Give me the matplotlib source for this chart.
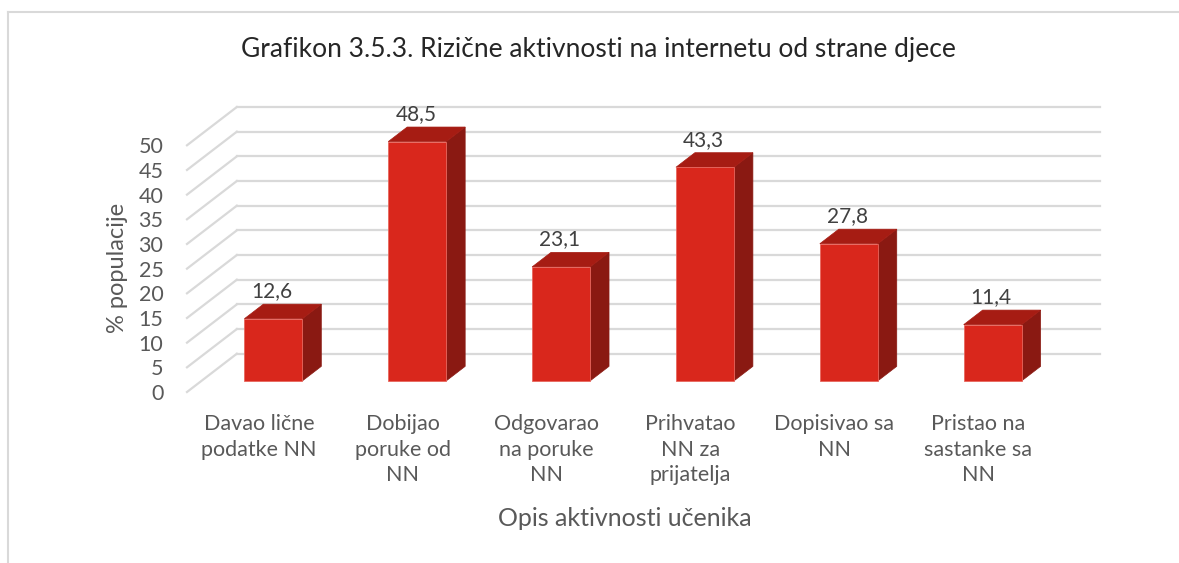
import numpy as np
import matplotlib.pyplot as plt
from matplotlib.patches import Polygon
from matplotlib.lines import Line2D

plt.rcParams['font.family'] = ['Lato', 'DejaVu Sans']

title = "Grafikon 3.5.3. Rizične aktivnosti na internetu od strane djece"
categories = ["Davao lične\npodatke NN", "Dobijao\nporuke od\nNN", "Odgovarao\nna poruke\nNN",
              "Prihvatao\nNN za\nprijatelja", "Dopisivao sa\nNN", "Pristao na\nsastanke sa\nNN"]
values = [12.6, 48.5, 23.1, 43.3, 27.8, 11.4]
y_ticks = [0, 5, 10, 15, 20, 25, 30, 35, 40, 45, 50]
y_label = "% populacije"
x_label = "Opis aktivnosti učenika"

# oblique depth of the whole plot box, in data units
ddx = 0.3465
ddy = 7.76
bar_front = 0.29   # depth fraction of bar front face
bar_depth = 0.38   # depth fraction taken by bar
bar_w = 0.403

c_front = "#d9271c"
c_top = "#a61c13"
c_side = "#8a1912"
grid_c = "#d9d9d9"
text_c = "#595959"

fig = plt.figure(figsize=(11.79, 5.63), dpi=100)
W, H = 1179, 563
ax = fig.add_axes([187 / W, (H - 392) / H, 913 / W, 285 / H])
ax.set_xlim(-0.5, len(values) - 0.5 + ddx)
ax.set_ylim(0, 50 + ddy)
for s in ax.spines.values():
    s.set_visible(False)

# back wall gridlines + side wall diagonals
for v in y_ticks:
    ax.plot([-0.5 + ddx, len(values) - 0.5 + ddx], [v + ddy, v + ddy], color=grid_c, lw=1.6, zorder=1, clip_on=False)
    ax.plot([-0.5, -0.5 + ddx], [v, v + ddy], color=grid_c, lw=1.6, zorder=1, clip_on=False)

# bars drawn as oblique boxes
for i, v in enumerate(values):
    x0 = i + bar_front * ddx - bar_w / 2
    x1 = x0 + bar_w
    y0 = bar_front * ddy
    y1 = y0 + v
    ox = bar_depth * ddx
    oy = bar_depth * ddy
    side = Polygon([(x1, y0), (x1 + ox, y0 + oy), (x1 + ox, y1 + oy), (x1, y1)], closed=True,
                   facecolor=c_side, edgecolor=c_side, lw=0.5, zorder=3)
    top = Polygon([(x0, y1), (x1, y1), (x1 + ox, y1 + oy), (x0 + ox, y1 + oy)], closed=True,
                  facecolor=c_top, edgecolor=c_top, lw=0.5, zorder=3)
    front = Polygon([(x0, y0), (x1, y0), (x1, y1), (x0, y1)], closed=True,
                    facecolor=c_front, edgecolor="#e8675e", lw=0.6, zorder=4)
    ax.add_patch(side)
    ax.add_patch(top)
    ax.add_patch(front)
    ax.annotate(str(v).replace(".", ","), xy=(i + bar_front * ddx - 0.01, y1 + oy), xytext=(0, 2),
                textcoords="offset points", ha="center", va="bottom", fontsize=15, color="#404040", zorder=5)

ax.set_xticks(range(len(values)))
ax.set_xticklabels(categories, fontsize=15.5, color=text_c, linespacing=1.35)
ax.set_yticks(y_ticks)
ax.set_yticklabels([str(t) for t in y_ticks], fontsize=15.5, color=text_c)
ax.tick_params(axis="both", length=0)
ax.tick_params(axis="y", pad=17)
ax.tick_params(axis="x", pad=16)

fig.text(118 / W, 1 - 268 / H, y_label, rotation=90, ha="center", va="center", fontsize=17, color=text_c)
fig.text(625 / W, 1 - 519 / H, x_label, ha="center", va="center", fontsize=18, color=text_c)
fig.text(598 / W, 1 - 50 / H, title, ha="center", va="center", fontsize=19, color="#262626")

# outer frame lines (top and left)
fig.add_artist(Line2D([8 / W, 1], [1 - 12 / H, 1 - 12 / H], color=grid_c, lw=1.5))
fig.add_artist(Line2D([8 / W, 8 / W], [0, 1 - 12 / H], color=grid_c, lw=1.5))

fig.savefig("out.png", dpi=100, facecolor="white")
